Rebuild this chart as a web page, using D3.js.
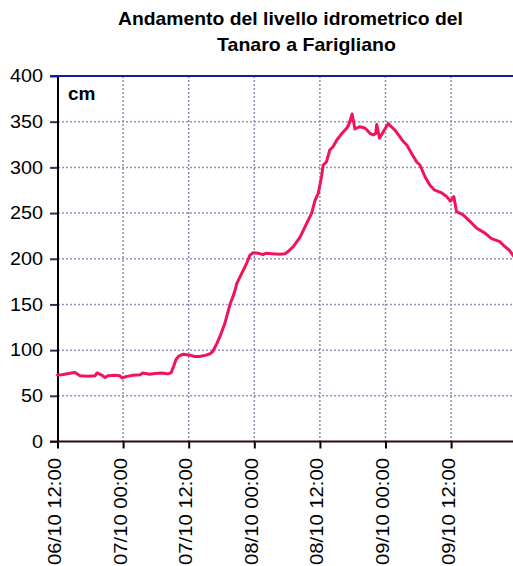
<!DOCTYPE html>
<html><head><meta charset="utf-8">
<script src="https://cdn.jsdelivr.net/npm/d3@7"></script>
<style>body{margin:0;background:#fff}svg{display:block;font-family:Arial,"Liberation Sans",sans-serif}</style>
</head><body><svg id="c" width="513" height="566"></svg>
<script>
const titleLines = ["Andamento del livello idrometrico del", "Tanaro a Farigliano"];
const unitLabel = "cm";
const yTickValues = [0, 50, 100, 150, 200, 250, 300, 350, 400];
const xTickLabels = ["06/10 12:00", "07/10 00:00", "07/10 12:00", "08/10 00:00", "08/10 12:00", "09/10 00:00", "09/10 12:00"];
const xDomainLabels = ["06/10 12:00", "10/10 00:00"];
const times = [
"06/10 12:00","06/10 12:48","06/10 14:18","06/10 15:12","06/10 16:06","06/10 17:36","06/10 18:54","06/10 19:12",
"06/10 20:00","06/10 20:42","06/10 21:12","06/10 22:30","06/10 23:24","06/10 23:48","07/10 00:30","07/10 01:48",
"07/10 03:06","07/10 03:36","07/10 04:54","07/10 05:48","07/10 07:06","07/10 08:12","07/10 08:48","07/10 09:06",
"07/10 09:42","07/10 10:12","07/10 11:00","07/10 12:12","07/10 13:06","07/10 14:00","07/10 15:12","07/10 15:54",
"07/10 16:24","07/10 17:12","07/10 17:42","07/10 18:36","07/10 19:36","07/10 20:06","07/10 20:30","07/10 20:48",
"07/10 21:42","07/10 22:36","07/10 23:12","07/10 23:48","08/10 00:42","08/10 01:36","08/10 02:06","08/10 03:12",
"08/10 04:42","08/10 05:36","08/10 06:12","08/10 07:06","08/10 08:24","08/10 09:36","08/10 10:30","08/10 11:06",
"08/10 11:42","08/10 12:18","08/10 12:36","08/10 13:12","08/10 13:48","08/10 14:24","08/10 15:06","08/10 16:00",
"08/10 16:54","08/10 17:18","08/10 17:54","08/10 18:24","08/10 19:18","08/10 20:18","08/10 21:12","08/10 21:48",
"08/10 22:12","08/10 22:24","08/10 22:54","08/10 23:36","09/10 00:30","09/10 00:48","09/10 01:42","09/10 02:36",
"09/10 03:18","09/10 03:54","09/10 04:48","09/10 05:42","09/10 06:18","09/10 07:12","09/10 08:06","09/10 09:00",
"09/10 10:18","09/10 11:12","09/10 11:54","09/10 12:30","09/10 13:00","09/10 14:12","09/10 15:30","09/10 16:42",
"09/10 18:12","09/10 19:24","09/10 20:54","09/10 21:42","09/10 22:36","09/10 23:18","09/10 23:48"
];
const levels = [
72.8,73,74.6,75.5,72,71.5,72,75,
73,70,72,72.5,72,69.5,71,72.5,
73,75,73.5,74.5,75,74,75.5,80,
90,93.5,95.5,94.5,93,93,94.5,96,
98.5,108,114.7,129,151,158.5,166,173,
184,195,204,206.6,206,204.5,206,205.5,
205,205.5,208,213,224,239,250,264,
271.6,290,302.6,306,319,322.6,330,337,
342.8,347,358.5,342,344.5,342.8,337,335.5,
337,347,332,339,348,346,341,333.6,
328,324.5,315,306,302.6,290,280.7,275,
272,268,263,268,251.5,248,240.6,233.3,
228,222,218.7,214,209.6,204,200
];

const parse = d3.utcParse("%d/%m %H:%M");
const data = times.map((t, i) => ({t: parse(t), v: levels[i]}));

const svg = d3.select("#c");
const x = d3.scaleUtc().domain(xDomainLabels.map(parse)).range([57.5, 516.7]);
const y = d3.scaleLinear().domain([0, 400]).range([441.5, 76]);

// title
svg.append("text").attr("x", 118).attr("y", 25).attr("font-size", 19).attr("font-weight", "bold")
  .attr("textLength", 345).attr("lengthAdjust", "spacingAndGlyphs").text(titleLines[0]);
svg.append("text").attr("x", 217).attr("y", 51).attr("font-size", 19).attr("font-weight", "bold")
  .attr("textLength", 179).attr("lengthAdjust", "spacingAndGlyphs").text(titleLines[1]);

// horizontal grid
svg.append("g").selectAll("line").data(yTickValues.filter(v => v > 0 && v < 400)).join("line")
  .attr("x1", 58).attr("x2", 513).attr("y1", d => y(d)).attr("y2", d => y(d))
  .attr("stroke", "#9c8ccc").attr("stroke-width", 1.5).attr("stroke-dasharray", "2,2");
// vertical grid
const xTicks = xTickLabels.map(parse);
svg.append("g").selectAll("line").data(xTicks.slice(1)).join("line")
  .attr("x1", d => x(d)).attr("x2", d => x(d)).attr("y1", 76).attr("y2", 441.5)
  .attr("stroke", "#8c8cac").attr("stroke-width", 1.5).attr("stroke-dasharray", "2,2");

// y axis
const yAxis = svg.append("g").attr("transform", "translate(58,0)")
  .call(d3.axisLeft(y).tickValues(yTickValues).tickSize(8).tickPadding(7).tickFormat(d3.format("d")));
yAxis.select(".domain").remove();
yAxis.selectAll(".tick line").attr("stroke", "#3a2a5a").attr("stroke-width", 2);
yAxis.selectAll(".tick text").attr("font-size", 18).attr("fill", "#000")
  .attr("font-family", "Arial, 'Liberation Sans', sans-serif")
  .attr("x", -15)
  .attr("textLength", d => String(d).length * 11).attr("lengthAdjust", "spacingAndGlyphs");
svg.append("line").attr("x1", 58).attr("x2", 58).attr("y1", 76).attr("y2", 442.5)
  .attr("stroke", "#000").attr("stroke-width", 2);

// x axis
const xAxis = svg.append("g").attr("transform", "translate(0,441.5)")
  .call(d3.axisBottom(x).tickValues(xTicks).tickSize(7).tickFormat(d3.utcFormat("%d/%m %H:%M")));
xAxis.select(".domain").remove();
xAxis.selectAll(".tick line").attr("stroke", "#000").attr("stroke-width", 2);
xAxis.selectAll(".tick text").attr("font-size", 18).attr("fill", "#000")
  .attr("font-family", "Arial, 'Liberation Sans', sans-serif")
  .attr("text-anchor", "end").attr("transform", "rotate(-90)")
  .attr("x", -16.5).attr("y", 0).attr("dy", "3px")
  .attr("textLength", 107).attr("lengthAdjust", "spacingAndGlyphs");
svg.append("line").attr("x1", 50).attr("x2", 513).attr("y1", 441.5).attr("y2", 441.5)
  .attr("stroke", "#2a0a1a").attr("stroke-width", 2);

// top border
svg.append("line").attr("x1", 50).attr("x2", 513).attr("y1", 76).attr("y2", 76)
  .attr("stroke", "#1a1a9a").attr("stroke-width", 2);

// unit label
svg.append("text").attr("x", 68).attr("y", 100).attr("font-size", 19).attr("font-weight", "bold").text(unitLabel);

// data line
svg.append("path").datum(data)
  .attr("fill", "none").attr("stroke", "#f0145a").attr("stroke-width", 3)
  .attr("stroke-linejoin", "round").attr("stroke-linecap", "round")
  .attr("d", d3.line().x(d => x(d.t)).y(d => y(d.v)));
</script></body></html>
